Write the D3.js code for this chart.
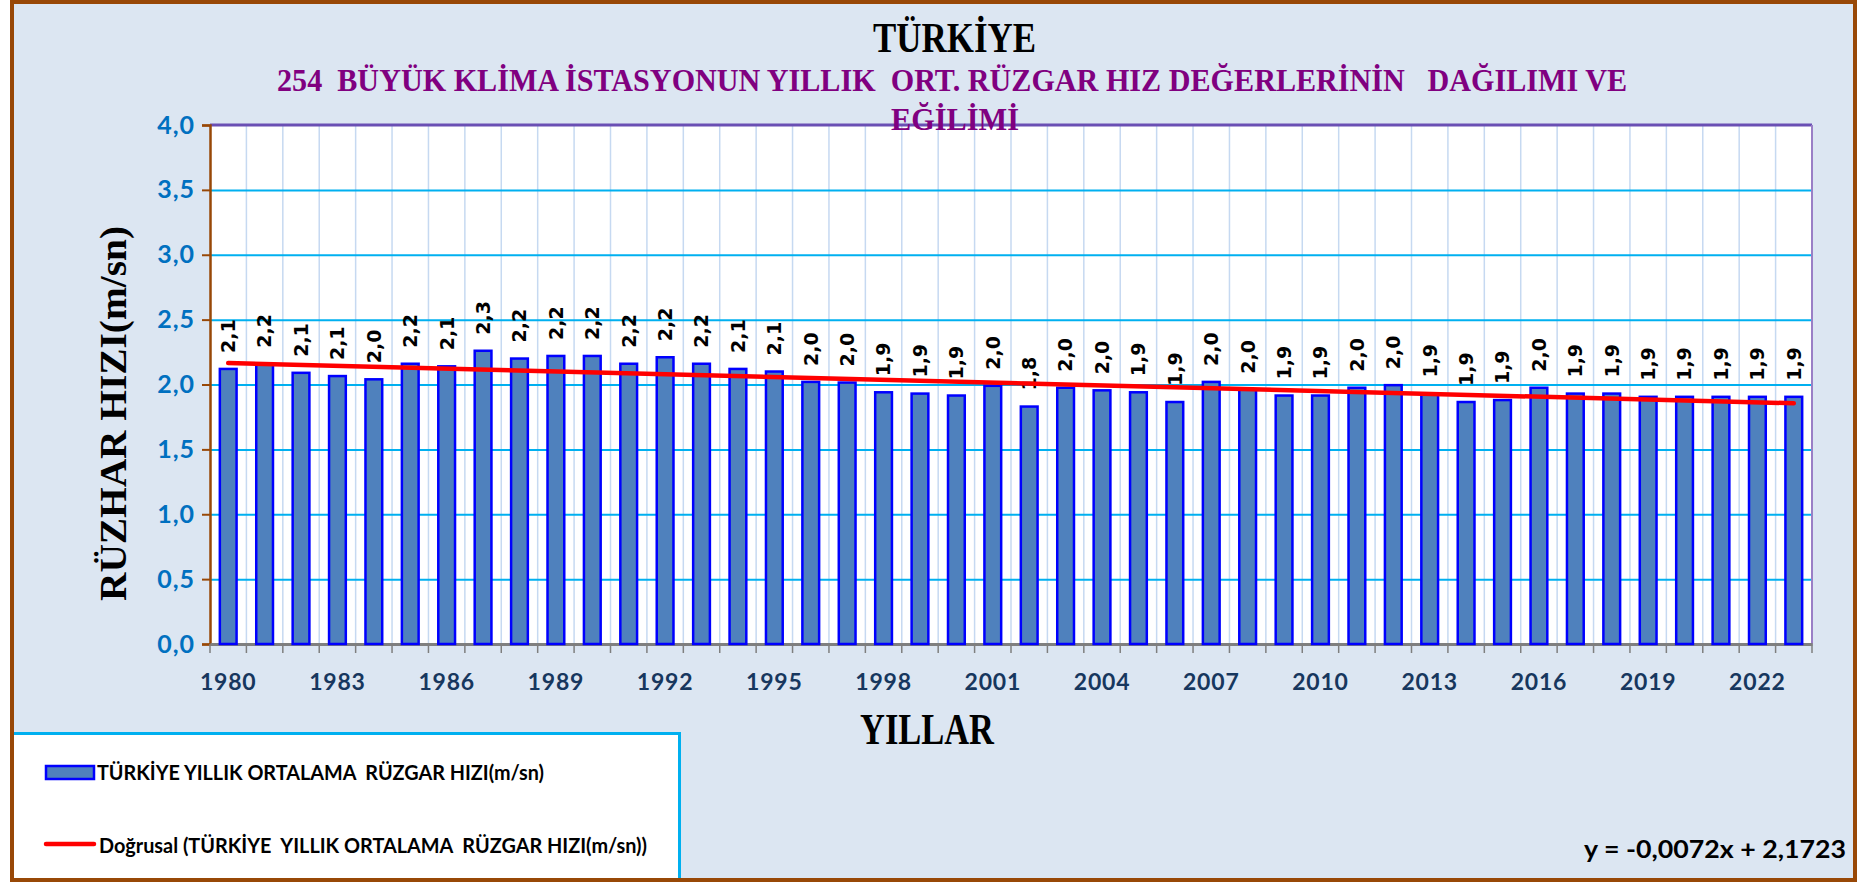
<!DOCTYPE html>
<html>
<head>
<meta charset="utf-8">
<script src="https://cdn.jsdelivr.net/npm/d3@7/dist/d3.min.js"></script>
<style>
  body { margin: 0; background: #ffffff; }
</style>
</head>
<body>
<div id="chart"></div>
<script>
// categories (years)
const years = [1980, 1981, 1982, 1983, 1984, 1985, 1986, 1987, 1988, 1989,
  1990, 1991, 1992, 1993, 1994, 1995, 1996, 1997, 1998, 1999,
  2000, 2001, 2002, 2003, 2004, 2005, 2006, 2007, 2008, 2009,
  2010, 2011, 2012, 2013, 2014, 2015, 2016, 2017, 2018, 2019,
  2020, 2021, 2022, 2023];

// yearly mean wind speed (m/sn)
const windSpeed = [2.12, 2.16, 2.09, 2.065, 2.04, 2.16, 2.14, 2.26, 2.20, 2.22,
  2.22, 2.16, 2.21, 2.16, 2.12, 2.10, 2.02, 2.015, 1.94, 1.93,
  1.915, 1.99, 1.83, 1.975, 1.955, 1.94, 1.865, 2.02, 1.96, 1.915,
  1.915, 1.975, 1.995, 1.93, 1.865, 1.88, 1.975, 1.93, 1.93, 1.905,
  1.905, 1.905, 1.905, 1.905];

// tick values
const yTicks = [0, 0.5, 1, 1.5, 2, 2.5, 3, 3.5, 4];
const xLabelYears = [1980, 1983, 1986, 1989, 1992, 1995, 1998, 2001, 2004, 2007, 2010, 2013, 2016, 2019, 2022];

// linear trend from the chart: y = -0,0072x + 2,1723 (x = 1..n)
const trendSlope = -0.0072;
const trendIntercept = 2.1723;

const W = 1867, H = 884;
const plot = { left: 210, right: 1812, top: 125, bottom: 644 };

// turkish number format (decimal comma)
const tr = d3.formatLocale({ decimal: ',', thousands: '.', grouping: [3], currency: ['', ''] });
const fmt1 = tr.format('.1f');

const svg = d3.select('#chart').append('svg')
  .attr('width', W)
  .attr('height', H)
  .style('display', 'block');

// page + frame
svg.append('rect').attr('width', W).attr('height', H).attr('fill', '#ffffff');
svg.append('rect')
  .attr('x', 12).attr('y', 2)
  .attr('width', 1843).attr('height', 878)
  .attr('fill', '#dce6f2')
  .attr('stroke', '#984807')
  .attr('stroke-width', 4);

// scales
const x = d3.scaleBand()
  .domain(years)
  .range([plot.left, plot.right])
  .padding(0);

const y = d3.scaleLinear()
  .domain([0, 4])
  .range([plot.bottom, plot.top]);

// plot area
svg.append('rect')
  .attr('x', plot.left).attr('y', plot.top)
  .attr('width', plot.right - plot.left)
  .attr('height', plot.bottom - plot.top)
  .attr('fill', '#ffffff');

// vertical grid at category boundaries
svg.append('g')
  .selectAll('line')
  .data(years.slice(1))
  .enter()
  .append('line')
  .attr('x1', d => x(d)).attr('x2', d => x(d))
  .attr('y1', plot.top).attr('y2', plot.bottom)
  .attr('stroke', '#c6d9f1')
  .attr('stroke-width', 1.5);

// horizontal grid
const yGrid = d3.axisLeft(y)
  .tickValues(yTicks.filter(d => d > 0 && d < 4))
  .tickSize(-(plot.right - plot.left))
  .tickFormat('');
svg.append('g')
  .attr('transform', 'translate(' + plot.left + ',0)')
  .call(yGrid)
  .call(g => g.select('.domain').remove())
  .selectAll('line')
  .attr('stroke', '#00b0f0')
  .attr('stroke-width', 2);

// top + right border
svg.append('line')
  .attr('x1', plot.left).attr('x2', plot.right)
  .attr('y1', plot.top).attr('y2', plot.top)
  .attr('stroke', '#6a4fb4').attr('stroke-width', 3);
svg.append('line')
  .attr('x1', plot.right).attr('x2', plot.right)
  .attr('y1', plot.top).attr('y2', plot.bottom)
  .attr('stroke', '#9a7fc6').attr('stroke-width', 2);

// y axis
const yAxisCall = d3.axisLeft(y)
  .tickValues(yTicks)
  .tickSize(8)
  .tickPadding(7)
  .tickFormat(d => fmt1(d));
const yAxis = svg.append('g')
  .attr('transform', 'translate(' + plot.left + ',0)')
  .call(yAxisCall);
yAxis.select('.domain').attr('stroke', '#984807').attr('stroke-width', 2.5);
yAxis.selectAll('line').attr('stroke', '#984807').attr('stroke-width', 2);
yAxis.selectAll('text')
  .attr('fill', '#0070c0')
  .attr('font-family', 'Lato, sans-serif')
  .attr('font-weight', 'bold')
  .attr('font-size', '25px')
  .attr('letter-spacing', '1px');

// x axis: labels every 3 years, ticks at category boundaries
const xAxisCall = d3.axisBottom(x)
  .tickValues(xLabelYears)
  .tickSize(0)
  .tickPadding(30);
const xAxis = svg.append('g')
  .attr('transform', 'translate(0,' + plot.bottom + ')')
  .call(xAxisCall);
xAxis.select('.domain').attr('stroke', '#7f7f7f').attr('stroke-width', 3);
xAxis.selectAll('text')
  .attr('fill', '#17375e')
  .attr('font-family', 'Lato, sans-serif')
  .attr('font-weight', 'bold')
  .attr('font-size', '23px')
  .attr('letter-spacing', '0.8px');

svg.append('g')
  .selectAll('line')
  .data(years.concat(['end']))
  .enter()
  .append('line')
  .attr('x1', d => d === 'end' ? plot.right : x(d))
  .attr('x2', d => d === 'end' ? plot.right : x(d))
  .attr('y1', plot.bottom).attr('y2', plot.bottom + 9)
  .attr('stroke', '#7f7f7f')
  .attr('stroke-width', 1.5);

// bars
const barW = x.bandwidth() * 0.46;
svg.append('g')
  .selectAll('rect')
  .data(years)
  .enter()
  .append('rect')
  .attr('x', d => x(d) + (x.bandwidth() - barW) / 2)
  .attr('y', (d, i) => y(windSpeed[i]))
  .attr('width', barW)
  .attr('height', (d, i) => y(0) - y(windSpeed[i]))
  .attr('fill', '#4f81bd')
  .attr('stroke', '#0000ff')
  .attr('stroke-width', 2.5);

// value labels, rotated
svg.append('g')
  .selectAll('text')
  .data(years)
  .enter()
  .append('text')
  .attr('transform', (d, i) => 'translate(' + (x(d) + x.bandwidth() / 2) + ',' + (y(windSpeed[i]) - 16) + ') rotate(-90)')
  .attr('dy', '0.36em')
  .attr('text-anchor', 'start')
  .attr('font-family', 'DejaVu Sans, sans-serif')
  .attr('font-weight', 'bold')
  .attr('font-size', '19px')
  .attr('fill', '#000000')
  .text((d, i) => fmt1(windSpeed[i]));

// trend line (drawn over the labels, as in the original)
const first = years[0], last = years[years.length - 1];
svg.append('path')
  .datum([first, last])
  .attr('d', d3.line()
    .x(d => x(d) + x.bandwidth() / 2)
    .y(d => y(trendIntercept + trendSlope * (years.indexOf(d) + 1))))
  .attr('fill', 'none')
  .attr('stroke', '#ff0000')
  .attr('stroke-width', 4.5)
  .attr('stroke-linecap', 'round');

// titles
svg.append('text')
  .attr('x', 873).attr('y', 52)
  .attr('textLength', 163).attr('lengthAdjust', 'spacingAndGlyphs')
  .attr('font-family', 'Liberation Serif, serif')
  .attr('font-weight', 'bold')
  .attr('font-size', '42px')
  .attr('fill', '#000000')
  .text('TÜRKİYE');

svg.append('text')
  .attr('x', 277).attr('y', 91)
  .attr('textLength', 1350).attr('lengthAdjust', 'spacingAndGlyphs')
  .attr('font-family', 'Liberation Serif, serif')
  .attr('font-weight', 'bold')
  .attr('font-size', '32px')
  .attr('fill', '#800080')
  .style('white-space', 'pre')
  .text('254  BÜYÜK KLİMA İSTASYONUN YILLIK  ORT. RÜZGAR HIZ DEĞERLERİNİN   DAĞILIMI VE');

svg.append('text')
  .attr('x', 891).attr('y', 130)
  .attr('textLength', 128).attr('lengthAdjust', 'spacingAndGlyphs')
  .attr('font-family', 'Liberation Serif, serif')
  .attr('font-weight', 'bold')
  .attr('font-size', '32px')
  .attr('fill', '#800080')
  .text('EĞİLİMİ');

// axis titles
svg.append('text')
  .attr('x', 860).attr('y', 744)
  .attr('textLength', 134).attr('lengthAdjust', 'spacingAndGlyphs')
  .attr('font-family', 'Liberation Serif, serif')
  .attr('font-weight', 'bold')
  .attr('font-size', '44px')
  .attr('fill', '#000000')
  .text('YILLAR');

svg.append('text')
  .attr('transform', 'translate(126,601) rotate(-90)')
  .attr('textLength', 375).attr('lengthAdjust', 'spacingAndGlyphs')
  .attr('font-family', 'Liberation Serif, serif')
  .attr('font-weight', 'bold')
  .attr('font-size', '38px')
  .attr('fill', '#000000')
  .text('RÜZHAR HIZI(m/sn)');

// legend
const legend = svg.append('g');
legend.append('rect')
  .attr('x', 14).attr('y', 732)
  .attr('width', 665).attr('height', 146)
  .attr('fill', '#ffffff');
legend.append('path')
  .attr('d', 'M14,733.5 H679.5 V878')
  .attr('fill', 'none')
  .attr('stroke', '#00b0f0')
  .attr('stroke-width', 3);

legend.append('rect')
  .attr('x', 46).attr('y', 766)
  .attr('width', 48).attr('height', 13)
  .attr('fill', '#4f81bd')
  .attr('stroke', '#0000ff')
  .attr('stroke-width', 2.5);
legend.append('text')
  .attr('x', 97).attr('y', 780)
  .attr('textLength', 447).attr('lengthAdjust', 'spacingAndGlyphs')
  .attr('font-family', 'Lato, sans-serif')
  .attr('font-weight', 'bold')
  .attr('font-size', '21px')
  .attr('fill', '#000000')
  .style('white-space', 'pre')
  .text('TÜRKİYE YILLIK ORTALAMA  RÜZGAR HIZI(m/sn)');

legend.append('line')
  .attr('x1', 46).attr('x2', 94)
  .attr('y1', 844).attr('y2', 844)
  .attr('stroke', '#ff0000')
  .attr('stroke-width', 4.5)
  .attr('stroke-linecap', 'round');
legend.append('text')
  .attr('x', 99).attr('y', 853)
  .attr('textLength', 548).attr('lengthAdjust', 'spacingAndGlyphs')
  .attr('font-family', 'Lato, sans-serif')
  .attr('font-weight', 'bold')
  .attr('font-size', '21px')
  .attr('fill', '#000000')
  .style('white-space', 'pre')
  .text('Doğrusal (TÜRKİYE  YILLIK ORTALAMA  RÜZGAR HIZI(m/sn))');

// trend equation
svg.append('text')
  .attr('x', 1584).attr('y', 858)
  .attr('textLength', 262).attr('lengthAdjust', 'spacingAndGlyphs')
  .attr('font-family', 'Lato, sans-serif')
  .attr('font-weight', 'bold')
  .attr('font-size', '25px')
  .attr('fill', '#000000')
  .text('y = -0,0072x + 2,1723');
</script>
</body>
</html>
